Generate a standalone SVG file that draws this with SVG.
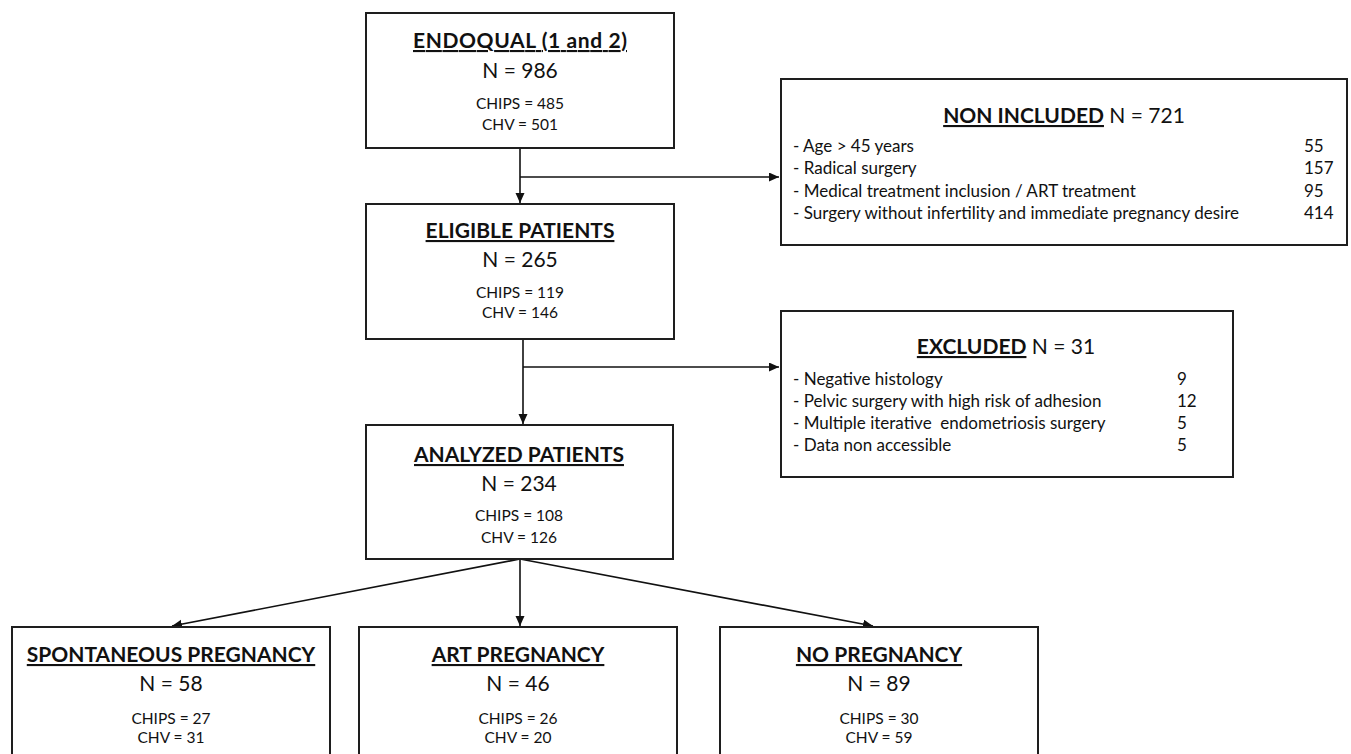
<svg xmlns="http://www.w3.org/2000/svg" width="1351" height="754" viewBox="0 0 1351 754">
<style>
  .box { fill: #ffffff; stroke: #1e1e1e; stroke-width: 2; }
  .conn { stroke: #111; stroke-width: 1.6; fill: none; }
  text { font-family: Lato, "Open Sans", "Liberation Sans", sans-serif; fill: #111; }
  .title { font-size: 21px; font-weight: bold; text-anchor: middle; text-decoration: underline; }
  .n { font-size: 21px; text-anchor: middle; }
  .sub { font-size: 15.5px; text-anchor: middle; }
  .head { font-size: 21px; text-anchor: middle; }
  .head .u { font-weight: bold; text-decoration: underline; }
  .item { font-size: 17px; }
</style>
<defs>
  <marker id="arr" markerUnits="userSpaceOnUse" markerWidth="11" markerHeight="10" refX="10" refY="4.5" orient="auto">
    <path d="M0,0 L10,4.5 L0,9 z" fill="#111"/>
  </marker>
</defs>
<rect width="1351" height="754" fill="#ffffff"/>

<g id="connectors">
  <line class="conn" x1="520" y1="148" x2="520" y2="203" marker-end="url(#arr)"/>
  <line class="conn" x1="520" y1="177" x2="779" y2="177" marker-end="url(#arr)"/>
  <line class="conn" x1="523" y1="339" x2="523" y2="424" marker-end="url(#arr)"/>
  <line class="conn" x1="523" y1="367" x2="779" y2="367" marker-end="url(#arr)"/>
  <line class="conn" x1="520" y1="559" x2="172" y2="626" marker-end="url(#arr)"/>
  <line class="conn" x1="520" y1="559" x2="520" y2="626" marker-end="url(#arr)"/>
  <line class="conn" x1="520" y1="559" x2="873" y2="626" marker-end="url(#arr)"/>
</g>

<g id="endoqual">
  <rect class="box" x="366" y="13" width="308" height="135"/>
  <text class="title" x="520" y="48" textLength="214" lengthAdjust="spacing">ENDOQUAL (1 and 2)</text>
  <text class="n" x="520" y="78">N = 986</text>
  <text class="sub" x="520" y="109">CHIPS = 485</text>
  <text class="sub" x="520" y="130">CHV = 501</text>
</g>

<g id="eligible">
  <rect class="box" x="366" y="204" width="308" height="135"/>
  <text class="title" x="520" y="238">ELIGIBLE PATIENTS</text>
  <text class="n" x="520" y="267">N = 265</text>
  <text class="sub" x="520" y="298">CHIPS = 119</text>
  <text class="sub" x="520" y="318">CHV = 146</text>
</g>

<g id="analyzed">
  <rect class="box" x="366" y="425" width="307" height="134"/>
  <text class="title" x="519" y="462">ANALYZED PATIENTS</text>
  <text class="n" x="519" y="491">N = 234</text>
  <text class="sub" x="519" y="521">CHIPS = 108</text>
  <text class="sub" x="519" y="543">CHV = 126</text>
</g>

<g id="non-included">
  <rect class="box" x="781" y="79" width="566" height="166"/>
  <text class="head" x="1064" y="123"><tspan class="u">NON INCLUDED</tspan> N = 721</text>
  <text class="item" x="793" y="152">- Age &gt; 45 years</text>
  <text class="item" x="793" y="174">- Radical surgery</text>
  <text class="item" x="793" y="197">- Medical treatment inclusion / ART treatment</text>
  <text class="item" x="793" y="219">- Surgery without infertility and immediate pregnancy desire</text>
  <text class="item" x="1304" y="152">55</text>
  <text class="item" x="1304" y="174">157</text>
  <text class="item" x="1304" y="197">95</text>
  <text class="item" x="1304" y="219">414</text>
</g>

<g id="excluded">
  <rect class="box" x="781" y="311" width="452" height="166"/>
  <text class="head" x="1006" y="354"><tspan class="u">EXCLUDED</tspan> N = 31</text>
  <text class="item" x="793" y="385">- Negative histology</text>
  <text class="item" x="793" y="407">- Pelvic surgery with high risk of adhesion</text>
  <text class="item" x="793" y="429" xml:space="preserve">- Multiple iterative  endometriosis surgery</text>
  <text class="item" x="793" y="451">- Data non accessible</text>
  <text class="item" x="1177" y="385">9</text>
  <text class="item" x="1177" y="407">12</text>
  <text class="item" x="1177" y="429">5</text>
  <text class="item" x="1177" y="451">5</text>
</g>

<g id="spontaneous">
  <rect class="box" x="12" y="627" width="318" height="140"/>
  <text class="title" x="171" y="662">SPONTANEOUS PREGNANCY</text>
  <text class="n" x="171" y="691">N = 58</text>
  <text class="sub" x="171" y="724">CHIPS = 27</text>
  <text class="sub" x="171" y="743">CHV = 31</text>
</g>

<g id="art">
  <rect class="box" x="359" y="627" width="318" height="140"/>
  <text class="title" x="518" y="662">ART PREGNANCY</text>
  <text class="n" x="518" y="691">N = 46</text>
  <text class="sub" x="518" y="724">CHIPS = 26</text>
  <text class="sub" x="518" y="743">CHV = 20</text>
</g>

<g id="no-pregnancy">
  <rect class="box" x="720" y="627" width="318" height="140"/>
  <text class="title" x="879" y="662">NO PREGNANCY</text>
  <text class="n" x="879" y="691">N = 89</text>
  <text class="sub" x="879" y="724">CHIPS = 30</text>
  <text class="sub" x="879" y="743">CHV = 59</text>
</g>
</svg>
